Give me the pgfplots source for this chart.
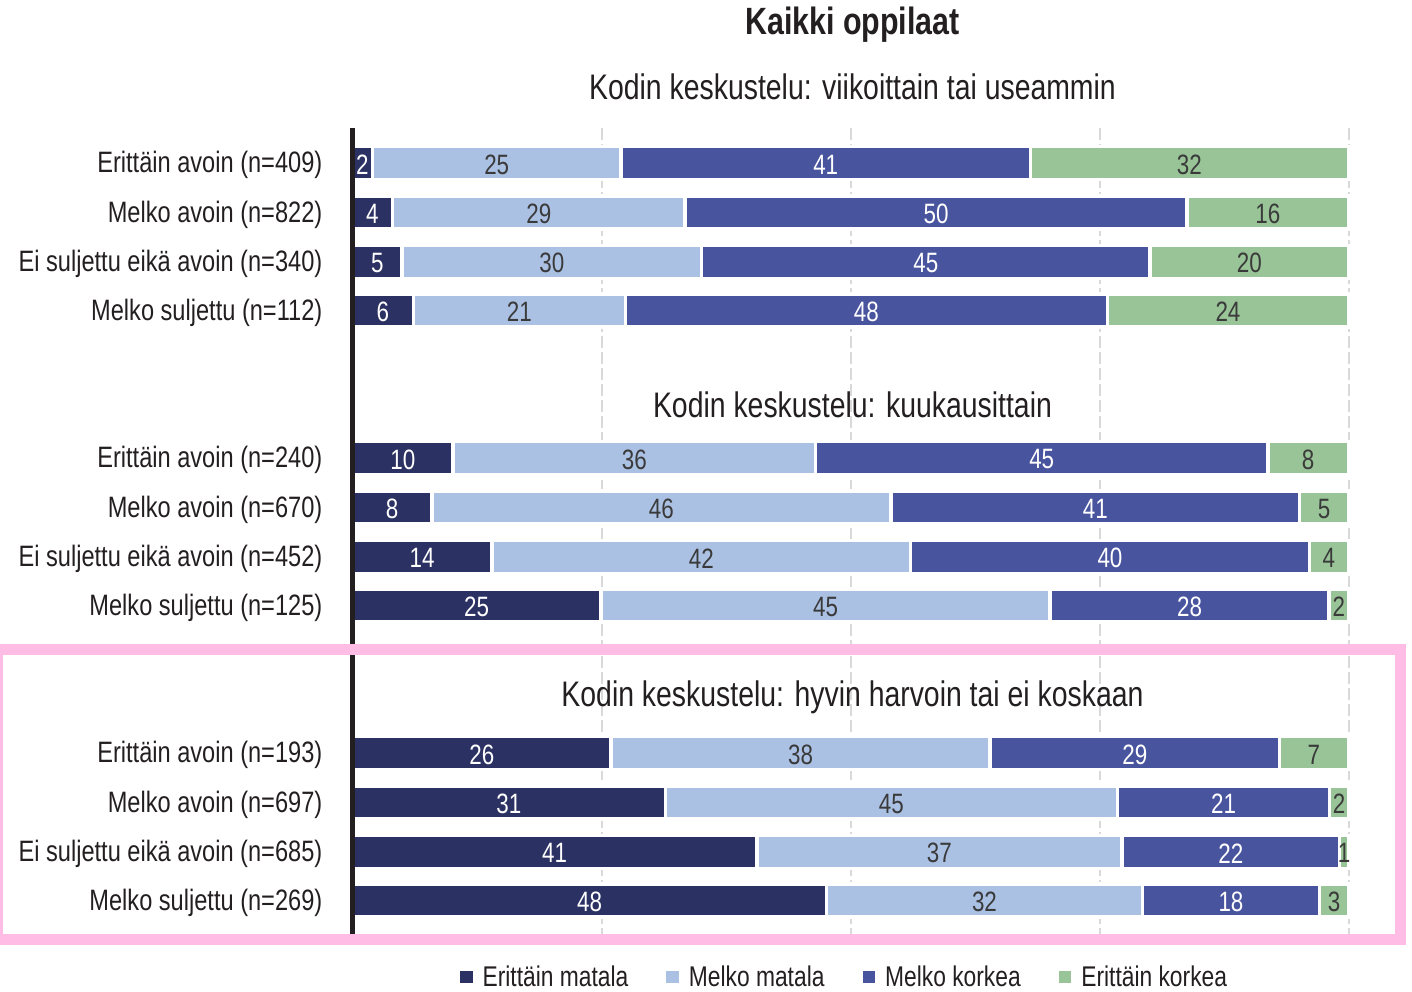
\documentclass[border=0pt]{standalone}
\usepackage{pgfplots}
\pgfplotsset{compat=1.18}
\usepackage{pgfplotstable}
\usepackage{fontspec}
\setmainfont{Liberation Sans}[FakeStretch=0.8]
\definecolor{cnavy}{HTML}{2B3263}
\definecolor{clight}{HTML}{ABC1E4}
\definecolor{cmed}{HTML}{48549E}
\definecolor{cgreen}{HTML}{98C497}
\definecolor{cpink}{HTML}{FFBDE6}
\definecolor{ctext}{HTML}{231F20}
\definecolor{cval}{HTML}{3A3A3A}
\definecolor{cgrid}{HTML}{D9D9D9}

% y = row position, a = Erittain matala, b = Melko matala, c = Melko korkea, d = Erittain korkea
\pgfplotstableread{
y     a     b     c     d
163   2.00  24.96 41.10 31.94
212.5 4.00  29.40 50.40 16.20
261.8 4.98  30.06 45.05 19.91
310.5 6.10  21.30 48.40 24.20
458   10.10 36.40 45.40 8.10
507.5 7.96  46.10 41.03 4.91
556.8 13.99 42.05 40.02 3.94
605.5 24.94 45.10 28.02 1.94
753   25.96 38.06 29.04 6.94
802.5 31.40 45.40 21.30 1.90
851.8 40.59 36.67 21.85 0.89
900.5 47.60 31.70 17.80 2.90
}\datatable

\pgfplotsset{sqlegend/.style={legend image code/.code={\fill[##1,draw=none] (0pt,-6.3pt) rectangle (12.6pt,6.3pt);}}}

\newcommand\labfont{\fontsize{29.5}{32}\selectfont}

\begin{document}
\begin{tikzpicture}[x=1pt,y=1pt]
\path[use as bounding box] (0,0) rectangle (1412,992);
\begin{axis}[
  at={(352.5pt,57pt)}, anchor=south west,
  scale only axis, width=996pt, height=807pt,
  xmin=0, xmax=100, ymin=128, ymax=935, y dir=reverse,
  xbar stacked, bar width=33,
  clip=false,
  axis line style={draw=none},
  xtick={25,50,75,100}, xticklabels={},
  xmajorgrids,
  grid style={cgrid, line width=2pt, dash pattern=on 12pt off 4pt},
  major tick length=0pt,
  ytick={163,212.5,261.8,310.5,458,507.5,556.8,605.5,753,802.5,851.8,900.5},
  yticklabels={Erittäin avoin (n=409),Melko avoin (n=822),Ei suljettu eikä avoin (n=340),Melko suljettu (n=112),
               Erittäin avoin (n=240),Melko avoin (n=670),Ei suljettu eikä avoin (n=452),Melko suljettu (n=125),
               Erittäin avoin (n=193),Melko avoin (n=697),Ei suljettu eikä avoin (n=685),Melko suljettu (n=269)},
  yticklabel style={font=\labfont, text=ctext, anchor=east, inner sep=0pt, xshift=-30pt, yshift=-2pt},
  /pgf/number format/assume math mode=true,
  point meta=explicit,
  nodes near coords={\makebox[0pt]{\pgfmathprintnumber[fixed,precision=0]{\pgfplotspointmeta}}},
  every node near coord/.append style={inner sep=0pt, yshift=-1.5pt, font=\fontsize{28}{30}\selectfont},
  legend columns=4,
  legend style={at={(0.494,-0.052)}, anchor=center, draw=none, fill=none,
    font=\fontsize{28.5}{30}\selectfont, text=ctext,
    /tikz/every odd column/.append style={column sep=8pt},
    /tikz/every even column/.append style={column sep=36pt}},
]
\addplot[fill=cnavy, draw=white, line width=3.5pt, sqlegend, every node near coord/.append style={text=white}] table[x=a,y=y,meta=a]{\datatable};
\addplot[fill=clight, draw=white, line width=3.5pt, sqlegend, every node near coord/.append style={text=cval}] table[x=b,y=y,meta=b]{\datatable};
\addplot[fill=cmed, draw=white, line width=3.5pt, sqlegend, every node near coord/.append style={text=white}] table[x=c,y=y,meta=c]{\datatable};
\addplot[fill=cgreen, draw=white, line width=3.5pt, sqlegend, every node near coord/.append style={text=cval}] table[x=d,y=y,meta=d]{\datatable};
\legend{Erittäin matala, Melko matala, Melko korkea, Erittäin korkea}

\node[anchor=base, font=\fontsize{38}{42}\selectfont\bfseries, text=ctext] at (axis cs:50.2,35) {Kaikki oppilaat};
\node[anchor=base, font=\fontsize{35.5}{38}\selectfont, text=ctext] at (axis cs:50.2,99.3) {Kodin keskustelu: viikoittain tai useammin};
\node[anchor=base, font=\fontsize{35.5}{38}\selectfont, text=ctext] at (axis cs:50.2,417.5) {Kodin keskustelu: kuukausittain};
\node[anchor=base, font=\fontsize{35.5}{38}\selectfont, text=ctext] at (axis cs:50.2,706.5) {Kodin keskustelu: hyvin harvoin tai ei koskaan};
\end{axis}
\draw[ctext, line width=4.5pt] (352.5,864) -- (352.5,57);
\draw[cpink, line width=11pt] (-2.2,342) rectangle (1400,52.5);
\end{tikzpicture}
\end{document}
